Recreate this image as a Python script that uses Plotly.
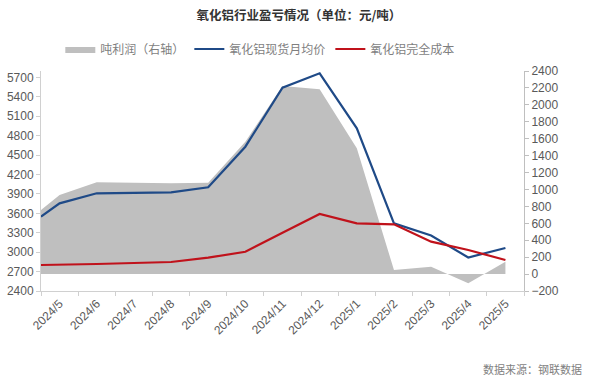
import plotly.graph_objects as go

# ---- data ----
months = ["2024/5", "2024/6", "2024/7", "2024/8", "2024/9", "2024/10", "2024/11",
          "2024/12", "2025/1", "2025/2", "2025/3", "2025/4", "2025/5"]
# x positions: first value sits on the left edge of the plot (start of period)
x_pos = [-0.5, 0, 1, 2, 3, 4, 5, 6, 7, 8, 9, 10, 11, 12]
spot_price = [3548, 3755, 3910, 3915, 3925, 4003, 4630, 5542, 5764, 4914, 3446, 3258, 2918, 3065]
full_cost = [2802, 2805, 2817, 2833, 2848, 2915, 3007, 3301, 3590, 3446, 3431, 3162, 3034, 2879]
profit = [757, 935, 1085, 1080, 1073, 1080, 1564, 2223, 2184, 1486, 48, 87, -109, 146]

left_ticks = list(range(2400, 5701, 300))
right_ticks = list(range(-200, 2401, 200))

axis_font = dict(family="Liberation Sans, Arial, sans-serif", size=12, color="#595959")
cjk = "Noto Sans CJK SC"

fig = go.Figure()
fig.add_trace(go.Scatter(
    x=x_pos, y=profit, name="吨利润（右轴）", mode="lines",
    line=dict(width=0, color="#bfbfbf"), fill="tozeroy", fillcolor="#bfbfbf",
    yaxis="y"))
fig.add_trace(go.Scatter(
    x=x_pos, y=spot_price, name="氧化铝现货月均价", mode="lines",
    line=dict(width=2.2, color="#1f4a87"), yaxis="y2"))
fig.add_trace(go.Scatter(
    x=x_pos, y=full_cost, name="氧化铝完全成本", mode="lines",
    line=dict(width=2.2, color="#c0121b"), yaxis="y2"))

fig.update_layout(
    width=610, height=385,
    margin=dict(l=41, r=86, t=71, b=94, autoexpand=False),
    paper_bgcolor="white", plot_bgcolor="white",
    title=dict(text="<b>氧化铝行业盈亏情况（单位：元/吨）</b>", x=0.49, xanchor="center",
               y=1 - 16 / 385, yanchor="middle", font=dict(family=cjk, size=12.5, color="#333333")),
    legend=dict(orientation="h", x=0.04, xanchor="left", y=1.10, yanchor="middle",
                font=dict(family=cjk, size=12, color="#7f7f7f"),
                bgcolor="rgba(0,0,0,0)", itemwidth=30, tracegroupgap=0),
    xaxis=dict(range=[-0.5, 12.5], tickmode="array", tickvals=list(range(len(months))),
               ticktext=months, tickangle=-45, ticks="", tickfont=axis_font, automargin=False,
               showline=True, linecolor="#d0d0d0", linewidth=1, showgrid=False, zeroline=False,
               minor=dict(ticks="outside", tick0=-0.5, dtick=1, ticklen=4,
                          tickcolor="#d0d0d0", showgrid=False)),
    yaxis=dict(side="right", range=[-200, 2400], tickmode="array", tickvals=right_ticks,
               ticks="outside", ticklen=4, tickcolor="#bfbfbf", tickfont=axis_font,
               automargin=False,
               showline=True, linecolor="#bfbfbf", showgrid=False, zeroline=False),
    yaxis2=dict(side="left", overlaying="y", range=[2400, 5800], tickmode="array",
                tickvals=left_ticks, ticks="outside", ticklen=4, tickcolor="#d0d0d0",
                tickfont=axis_font, showline=True, linecolor="#d0d0d0", automargin=False,
                showgrid=False, zeroline=False),
    showlegend=True,
)

fig.add_annotation(text="数据来源：钢联数据", xref="paper", yref="paper",
                   x=(584 - 41) / 483, xanchor="right", y=(291 - 369) / 220, yanchor="middle",
                   showarrow=False, font=dict(family=cjk, size=11, color="#7f7f7f"))

fig.write_html("out.html", config={"displayModeBar": False},
               post_script="document.body.style.margin='0';")
